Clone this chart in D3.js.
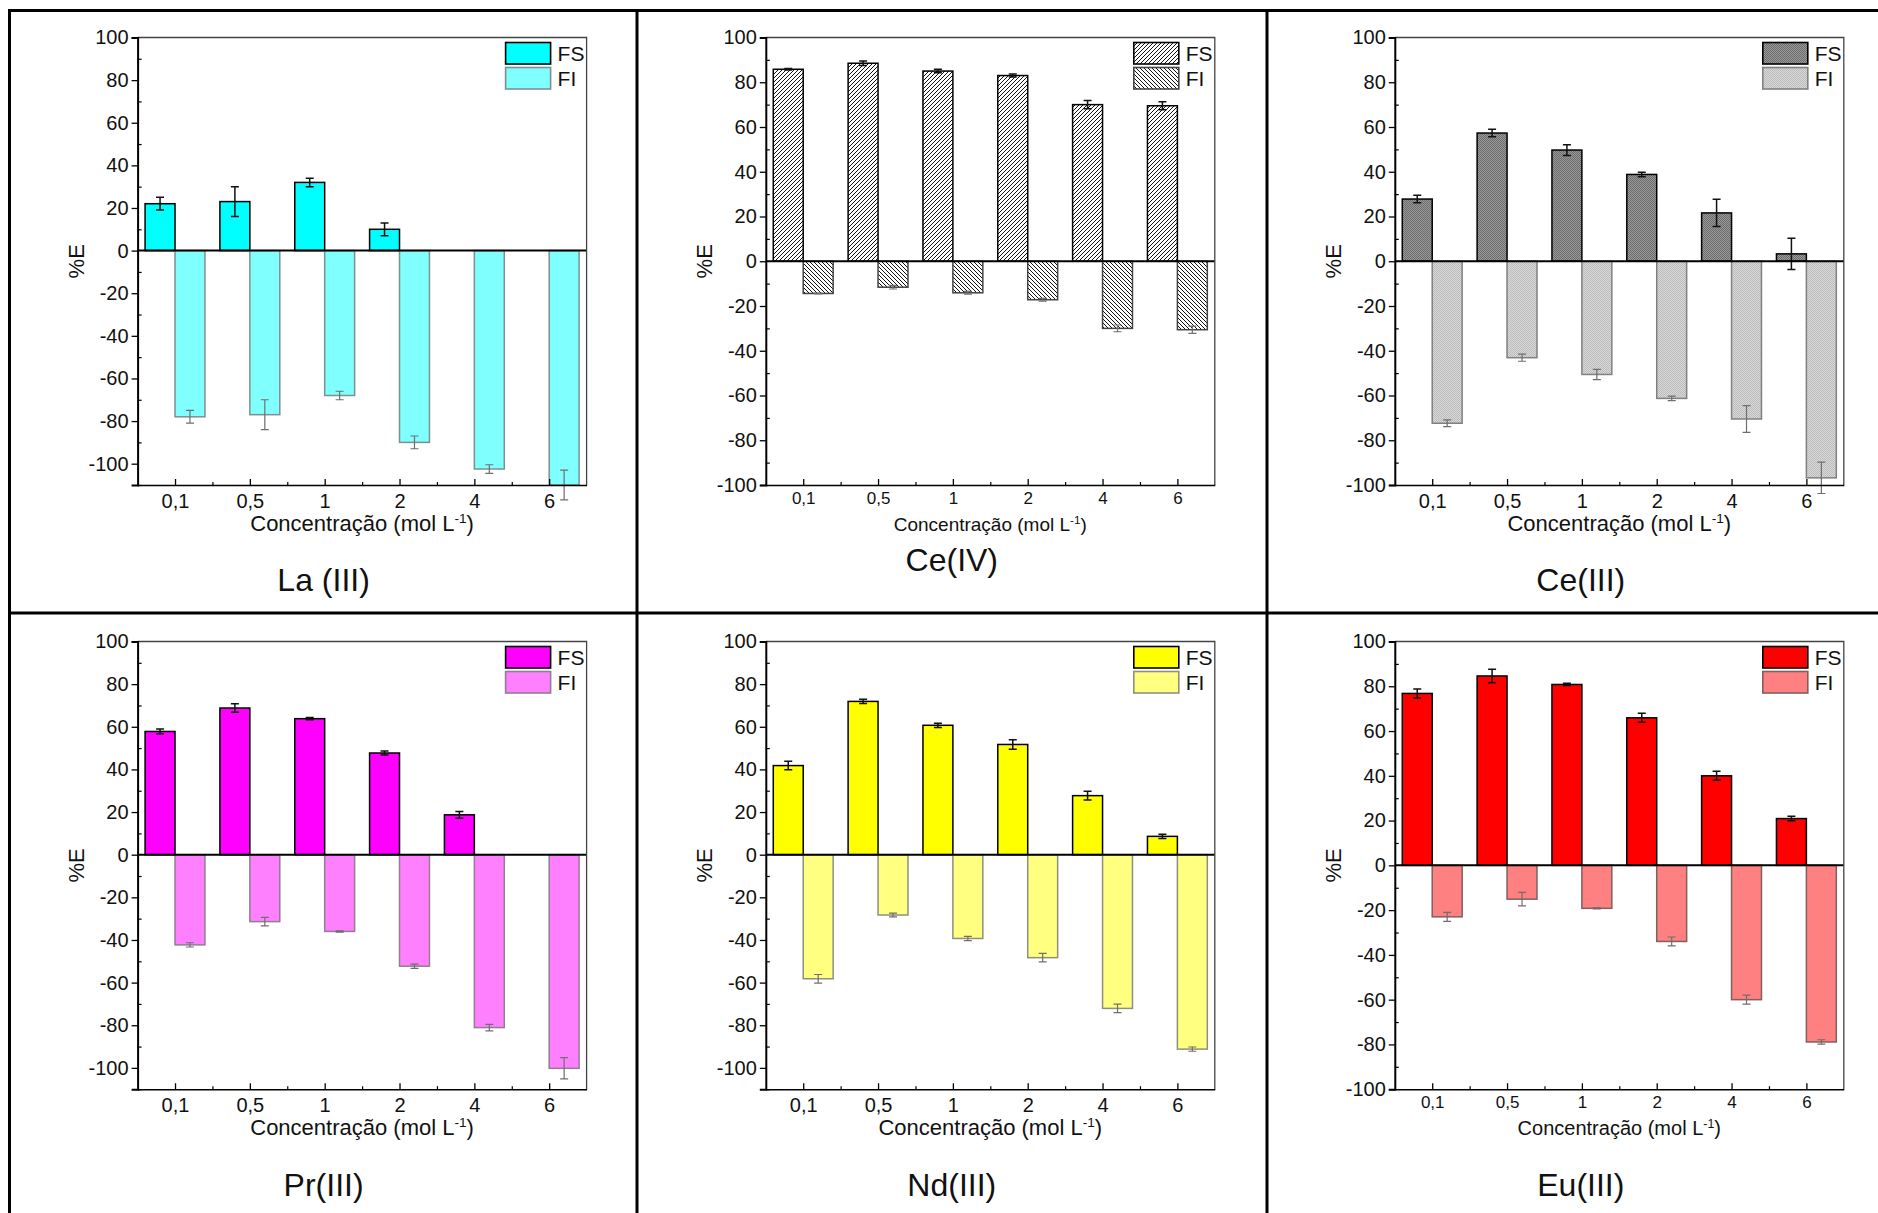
<!DOCTYPE html>
<html>
<head>
<meta charset="utf-8">
<script src="https://cdn.jsdelivr.net/npm/d3@7"></script>
<style>
  body { margin: 0; background: #fff; }
  svg { display: block; }
  text { font-family: "Liberation Sans", Arial, Helvetica, sans-serif; fill: #111; }
</style>
</head>
<body>
<svg id="fig" width="1878" height="1213"></svg>
<script>
// Acid concentrations (mol L-1), shared by all six panels
const concentrations = ["0,1", "0,5", "1", "2", "4", "6"];
const seriesNames = ["FS", "FI"];

// %E per element: FS (upper phase, positive) and FI (lower phase, negative), with error bars
const laFS    = [22, 23, 32, 10, null, null];
const laFSErr = [3, 7, 2, 3, 0, 0];
const laFI    = [-78, -77, -68, -90, -102.5, -110];
const laFIErr = [3, 7, 2, 3, 2, 7];

const ce4FS    = [85.8, 88.5, 85, 83, 70, 69.5];
const ce4FSErr = [0.3, 1, 0.8, 0.7, 1.8, 1.8];
const ce4FI    = [-14.4, -11.6, -14.1, -17.2, -30, -30.6];
const ce4FIErr = [0.2, 0.8, 0.6, 0.6, 1.5, 1.6];

const ce3FS    = [27.8, 57.3, 49.7, 38.8, 21.6, 3.3];
const ce3FSErr = [1.7, 1.7, 2.4, 1, 6.1, 7];
const ce3FI    = [-72.4, -43.1, -50.6, -61.3, -70.5, -96.8];
const ce3FIErr = [1.5, 1.6, 2.3, 1, 6, 7];

const prFS    = [57.8, 68.8, 63.8, 47.7, 18.7, null];
const prFSErr = [1.1, 2, 0.5, 0.9, 1.6, 0];
const prFI    = [-42.3, -31.4, -36, -52.3, -81.1, -100.2];
const prFIErr = [1, 2, 0.3, 1, 1.5, 5];

const ndFS    = [41.8, 71.9, 60.7, 51.7, 27.7, 8.6];
const ndFSErr = [2, 1, 1, 2.2, 2, 1];
const ndFI    = [-58.2, -28.3, -39.3, -48.3, -72.1, -91.2];
const ndFIErr = [2, 0.9, 1, 2, 2, 1];

const euFS    = [76.8, 84.6, 80.8, 65.9, 40, 20.9];
const euFSErr = [2, 3, 0.5, 2, 2, 1];
const euFI    = [-23, -15.1, -19.2, -34, -60, -78.9];
const euFIErr = [2, 3, 0.3, 2, 2, 1];

// y-axis tick values
const yMajorTicks = [100, 80, 60, 40, 20, 0, -20, -40, -60, -80, -100];

// ---------- layout ----------
const colLeft = [137.6, 765.8, 1394.8];
const rowTop = [37.5, 641.5];
const rowBottom = [485, 1089.2];
const plotW = 449;

const panels = [
  { title: "La (III)", col: 0, row: 0, fs: laFS, fsErr: laFSErr, fi: laFI, fiErr: laFIErr,
    yMin: -110, fsFill: "#00ffff", fiFill: "#80ffff", fiStroke: "#7f8f8f",
    xTickFont: 20, xLabelFont: 22, titleY: 590.5 },
  { title: "Ce(IV)", col: 1, row: 0, fs: ce4FS, fsErr: ce4FSErr, fi: ce4FI, fiErr: ce4FIErr,
    yMin: -100, fsFill: "url(#hatchUp)", fiFill: "url(#hatchDown)", fiStroke: "#444",
    xTickFont: 17, xLabelFont: 19, titleY: 571 },
  { title: "Ce(III)", col: 2, row: 0, fs: ce3FS, fsErr: ce3FSErr, fi: ce3FI, fiErr: ce3FIErr,
    yMin: -100, fsFill: "url(#dotsDark)", fiFill: "url(#dotsLight)", fiStroke: "#808080",
    xTickFont: 20, xLabelFont: 22, titleY: 590.5 },
  { title: "Pr(III)", col: 0, row: 1, fs: prFS, fsErr: prFSErr, fi: prFI, fiErr: prFIErr,
    yMin: -110, fsFill: "#ff00ff", fiFill: "#ff80ff", fiStroke: "#8f7f8f",
    xTickFont: 20, xLabelFont: 22, titleY: 1195.5 },
  { title: "Nd(III)", col: 1, row: 1, fs: ndFS, fsErr: ndFSErr, fi: ndFI, fiErr: ndFIErr,
    yMin: -110, fsFill: "#ffff00", fiFill: "#ffff80", fiStroke: "#8f8f7f",
    xTickFont: 20, xLabelFont: 22, titleY: 1195.5 },
  { title: "Eu(III)", col: 2, row: 1, fs: euFS, fsErr: euFSErr, fi: euFI, fiErr: euFIErr,
    yMin: -100, fsFill: "#ff0000", fiFill: "#ff8080", fiStroke: "#7f5f5f",
    xTickFont: 17, xLabelFont: 20, titleY: 1195.5 }
];

const svg = d3.select("#fig");
const defs = svg.append("defs");

// diagonal hatching for Ce(IV)
function hatch(id, d) {
  const p = defs.append("pattern").attr("id", id)
    .attr("patternUnits", "userSpaceOnUse").attr("width", 4).attr("height", 4);
  p.append("rect").attr("width", 4).attr("height", 4).attr("fill", "#fff");
  p.append("path").attr("d", d).attr("stroke", "#111").attr("stroke-width", 1);
}
hatch("hatchUp", "M-1,1 l2,-2 M0,4 l4,-4 M3,5 l2,-2");
hatch("hatchDown", "M-1,3 l2,2 M0,0 l4,4 M3,-1 l2,2");

// fine dotted grey texture for Ce(III)
function dots(id, base, dot) {
  const p = defs.append("pattern").attr("id", id)
    .attr("patternUnits", "userSpaceOnUse").attr("width", 2).attr("height", 2);
  p.append("rect").attr("width", 2).attr("height", 2).attr("fill", base);
  p.append("rect").attr("width", 1).attr("height", 1).attr("fill", dot);
  p.append("rect").attr("x", 1).attr("y", 1).attr("width", 1).attr("height", 1).attr("fill", dot);
}
dots("dotsDark", "#999", "#6c6c6c");
dots("dotsLight", "#d8d8d8", "#bcbcbc");

const barFrac = 0.4; // bar width, in category units

panels.forEach((p, pi) => {
  const left = colLeft[p.col], top = rowTop[p.row], bottom = rowBottom[p.row];
  const x = d3.scaleLinear().domain([0.5, concentrations.length + 0.5]).range([left, left + plotW]);
  const y = d3.scaleLinear().domain([p.yMin, 100]).range([bottom, top]);
  const g = svg.append("g");

  const clipId = "clip" + pi;
  defs.append("clipPath").attr("id", clipId)
    .append("rect").attr("x", left).attr("y", top).attr("width", plotW).attr("height", bottom - top);

  const bars = g.append("g").attr("clip-path", `url(#${clipId})`);
  const idx = d3.range(concentrations.length);

  // FS bars (left of each category tick)
  bars.selectAll("rect.fs").data(idx.filter(i => p.fs[i] != null)).join("rect")
    .attr("class", "fs")
    .attr("x", i => x(i + 1 - barFrac))
    .attr("width", i => x(i + 1) - x(i + 1 - barFrac))
    .attr("y", i => y(Math.max(0, p.fs[i])))
    .attr("height", i => Math.abs(y(p.fs[i]) - y(0)))
    .attr("fill", p.fsFill).attr("stroke", "#000").attr("stroke-width", 1.5);

  // FI bars (right of each category tick)
  bars.selectAll("rect.fi").data(idx.filter(i => p.fi[i] != null)).join("rect")
    .attr("class", "fi")
    .attr("x", i => x(i + 1))
    .attr("width", i => x(i + 1 + barFrac) - x(i + 1))
    .attr("y", i => y(Math.max(0, p.fi[i])))
    .attr("height", i => Math.abs(y(p.fi[i]) - y(0)))
    .attr("fill", p.fiFill).attr("stroke", p.fiStroke).attr("stroke-width", 1.5);

  // error bars
  function errorBars(vals, errs, offset, color, w) {
    const eg = g.append("g").attr("stroke", color).attr("stroke-width", w).attr("fill", "none");
    idx.filter(i => vals[i] != null && errs[i] > 0).forEach(i => {
      const cx = x(i + 1 + offset);
      const y1 = y(vals[i] + errs[i]), y2 = y(vals[i] - errs[i]);
      eg.append("path").attr("d",
        `M${cx},${y1}V${y2}M${cx - 4},${y1}H${cx + 4}M${cx - 4},${y2}H${cx + 4}`);
    });
  }
  errorBars(p.fs, p.fsErr, -barFrac / 2, "#111", 1.5);
  errorBars(p.fi, p.fiErr, barFrac / 2, "#6f6f6f", 1.2);

  // zero line
  g.append("line").attr("x1", left).attr("x2", left + plotW)
    .attr("y1", y(0)).attr("y2", y(0)).attr("stroke", "#000").attr("stroke-width", 2);

  // frame: top and right
  g.append("path").attr("d", `M${left},${top}H${left + plotW}V${bottom}`)
    .attr("fill", "none").attr("stroke", "#444").attr("stroke-width", 1.3);

  // y axis: major ticks outward, minor ticks inward
  const yMinor = d3.range(p.yMin, 100, 10).filter(v => v % 20 !== 0);
  const yAxis = g.append("g").attr("transform", `translate(${left},0)`)
    .call(d3.axisLeft(y).tickValues(yMajorTicks).tickSize(6).tickPadding(3).tickFormat(d => String(d)));
  yAxis.select(".domain").attr("stroke", "#000").attr("stroke-width", 2);
  yAxis.selectAll("line").attr("stroke", "#000").attr("stroke-width", 1.3);
  yAxis.selectAll("text").style("font-size", "20px").attr("fill", "#111");
  g.append("g").attr("transform", `translate(${left},0)`)
    .call(d3.axisRight(y).tickValues(yMinor).tickSize(4).tickFormat(""))
    .call(a => a.select(".domain").remove())
    .selectAll("line").attr("stroke", "#000").attr("stroke-width", 1.2);

  // x axis: ticks pointing into the plot, minor ticks between categories
  const xAxis = g.append("g").attr("transform", `translate(0,${bottom})`)
    .call(d3.axisBottom(x).tickValues(idx.map(i => i + 1)).tickSizeInner(-6).tickSizeOuter(0)
      .tickFormat(d => concentrations[d - 1]));
  xAxis.select(".domain").attr("stroke", "#000").attr("stroke-width", 1.6);
  xAxis.selectAll("line").attr("stroke", "#000").attr("stroke-width", 1.3);
  xAxis.selectAll("text").style("font-size", p.xTickFont + "px").attr("fill", "#111")
    .attr("y", p.xTickFont === 20 ? 23 : 19).attr("dy", null);
  g.append("g").attr("transform", `translate(0,${bottom})`)
    .call(d3.axisBottom(x).tickValues(idx.slice(0, -1).map(i => i + 1.5)).tickSize(-3).tickFormat(""))
    .call(a => a.select(".domain").remove())
    .selectAll("line").attr("stroke", "#000").attr("stroke-width", 1.2);

  // axis titles
  const xl = g.append("text").attr("x", left + plotW / 2).attr("y", bottom + 46)
    .attr("text-anchor", "middle").style("font-size", p.xLabelFont + "px");
  xl.append("tspan").text("Concentração (mol L");
  xl.append("tspan").text("-1").attr("dy", -p.xLabelFont * 0.38)
    .style("font-size", (p.xLabelFont * 0.62) + "px");
  xl.append("tspan").text(")").attr("dy", p.xLabelFont * 0.38);

  g.append("text")
    .attr("transform", `translate(${left - 54},${(top + bottom) / 2}) rotate(-90)`)
    .attr("text-anchor", "middle").style("font-size", "22px").text("%E");

  // legend
  const lx = left + 368, ly = top + 5;
  const fills = [p.fsFill, p.fiFill], strokes = ["#000", p.fiStroke];
  seriesNames.forEach((name, k) => {
    const by = ly + k * 25;
    g.append("rect").attr("x", lx).attr("y", by).attr("width", 45).attr("height", 21.5)
      .attr("fill", fills[k]).attr("stroke", strokes[k]).attr("stroke-width", 1.6);
    g.append("text").attr("x", lx + 52).attr("y", by + 10.75 + 7.6)
      .style("font-size", "21px").text(name);
  });

  // panel title
  g.append("text").attr("x", left + 186).attr("y", p.titleY)
    .attr("text-anchor", "middle").style("font-size", "32px").text(p.title);
});

// panel grid lines
const frame = svg.append("g").attr("stroke", "#000").attr("stroke-width", 3).attr("fill", "none");
frame.append("path").attr("d", "M9.5,1213V10.5H1878");
frame.append("path").attr("d", "M637,10.5V1213M1267,10.5V1213M9.5,613H1878");
</script>
</body>
</html>
